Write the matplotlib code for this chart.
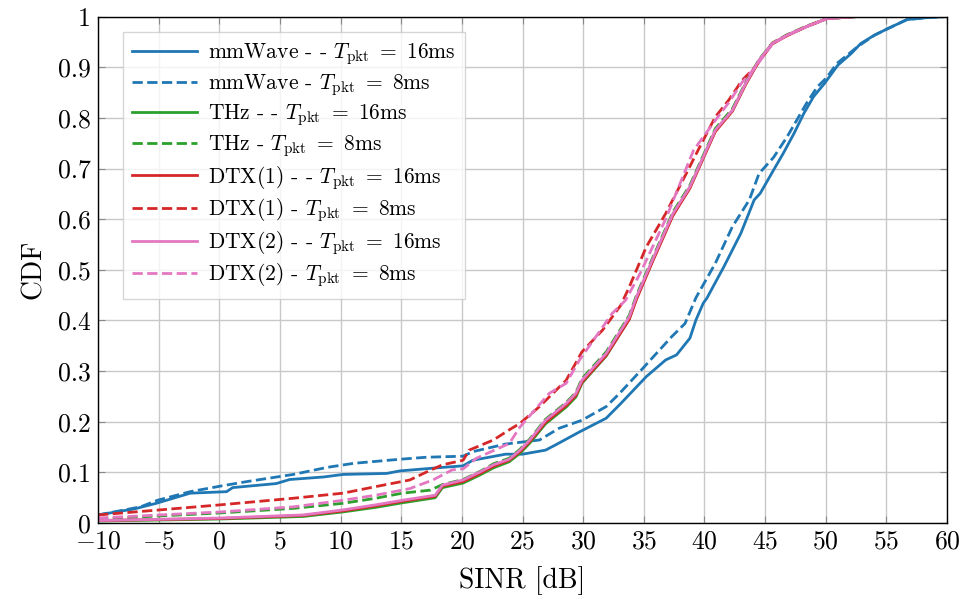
import numpy as np
import matplotlib.pyplot as plt

plt.rcParams['font.family'] = 'serif'
plt.rcParams['font.serif'] = ['cmr10']
plt.rcParams['mathtext.fontset'] = 'cm'
plt.rcParams['axes.formatter.use_mathtext'] = True

# SINR [dB] / CDF points
mmw16_x = [-10, -7, -5.2, -2.4, 0.6, 1.1, 4.7, 5.8, 8.6, 10.2, 13.8, 14.9, 17.4, 20.1, 20.9, 23.6, 25.0, 26.9,
           27.7, 29.7, 31.9, 33.1, 35.2, 36.8, 37.7, 38.8, 39.3, 39.9, 40.2, 41.6, 43.0, 44.1, 44.6, 45.7, 46.5,
           47.4, 48.2, 49.0, 49.9, 51.0, 52.1, 52.9, 54.0, 55.1, 56.7, 58.4, 60]
mmw16_y = [0.016, 0.028, 0.039, 0.059, 0.062, 0.070, 0.078, 0.086, 0.091, 0.096, 0.098, 0.103, 0.108, 0.113,
           0.124, 0.136, 0.136, 0.144, 0.154, 0.180, 0.207, 0.236, 0.289, 0.322, 0.332, 0.365, 0.401, 0.434,
           0.444, 0.506, 0.572, 0.638, 0.651, 0.697, 0.730, 0.770, 0.809, 0.842, 0.868, 0.904, 0.927, 0.947,
           0.963, 0.976, 0.994, 0.998, 1.0]

mmw8_x = [-10, -6.5, -5.1, -2.4, 0.1, 2.3, 6.1, 8.9, 11.1, 14.9, 17.1, 20.1, 20.9, 23.6, 26.4, 28.0, 29.9, 31.9,
          33.0, 34.9, 37.3, 38.4, 39.3, 40.9, 42.3, 43.7, 44.5, 45.7, 46.8, 47.6, 48.4, 49.3, 50.1, 50.9, 52.6,
          54.0, 55.1, 56.7, 58.4, 60]
mmw8_y = [0.016, 0.032, 0.045, 0.062, 0.073, 0.082, 0.096, 0.110, 0.118, 0.126, 0.130, 0.132, 0.141, 0.156,
          0.164, 0.187, 0.203, 0.230, 0.256, 0.305, 0.368, 0.394, 0.445, 0.513, 0.585, 0.638, 0.690, 0.722,
          0.762, 0.795, 0.828, 0.861, 0.880, 0.907, 0.940, 0.963, 0.976, 0.994, 0.998, 1.0]

dtx2_16_x = [-10, 0.1, 6.9, 10.2, 12.9, 15.1, 17.8, 18.4, 20.1, 21.5, 22.6, 23.9, 24.8, 25.6, 26.9, 28.6, 29.4,
             29.9, 31.9, 33.8, 34.4, 35.7, 37.4, 38.8, 39.9, 40.9, 42.3, 43.4, 44.5, 45.6, 46.8, 48.4, 50.1, 52.6]
dtx2_16_y = [0.005, 0.010, 0.016, 0.026, 0.036, 0.045, 0.055, 0.075, 0.085, 0.101, 0.115, 0.126, 0.144, 0.164,
             0.203, 0.236, 0.256, 0.282, 0.335, 0.407, 0.447, 0.519, 0.611, 0.664, 0.723, 0.776, 0.815, 0.868,
             0.914, 0.947, 0.963, 0.980, 0.996, 1.0]

dtx1_16_x = [-10, 0.1, 6.9, 10.2, 12.9, 15.1, 17.8, 18.4, 20.1, 21.5, 22.6, 23.9, 24.8, 25.6, 26.9, 28.6, 29.4,
             29.9, 31.9, 33.8, 34.4, 35.7, 37.4, 38.8, 39.9, 40.9, 42.3, 43.4, 44.5, 45.6, 46.8, 48.4, 50.1, 52.6]
dtx1_16_y = [0.005, 0.009, 0.015, 0.024, 0.034, 0.043, 0.053, 0.073, 0.082, 0.098, 0.112, 0.124, 0.141, 0.161,
             0.199, 0.232, 0.252, 0.278, 0.331, 0.402, 0.442, 0.515, 0.607, 0.661, 0.720, 0.773, 0.813, 0.866,
             0.912, 0.946, 0.962, 0.980, 0.996, 1.0]

thz16_x = [-10, 0.1, 6.9, 10.2, 12.9, 15.1, 17.8, 18.4, 20.1, 21.5, 22.6, 23.9, 24.8, 25.6, 26.9, 28.6, 29.4,
           29.9, 31.9, 33.8, 34.4, 35.7, 37.4, 38.8, 39.9, 40.9, 42.3, 43.4, 44.5, 45.6, 46.8, 48.4, 50.1, 52.6]
thz16_y = [0.004, 0.008, 0.013, 0.022, 0.031, 0.040, 0.050, 0.070, 0.079, 0.095, 0.109, 0.121, 0.138, 0.158,
           0.196, 0.229, 0.249, 0.276, 0.330, 0.403, 0.444, 0.517, 0.609, 0.663, 0.722, 0.775, 0.814, 0.867,
           0.913, 0.947, 0.963, 0.980, 0.996, 1.0]

dtx1_8_x = [-10, -4.9, 0.1, 6.1, 10.2, 12.9, 15.7, 17.1, 18.4, 20.1, 20.6, 22.6, 23.9, 24.8, 26.4, 28.6, 29.9,
            31.6, 33.1, 33.8, 35.2, 36.8, 38.5, 39.6, 40.9, 42.0, 43.1, 44.2, 45.6, 46.8, 48.4, 50.1, 52.0]
dtx1_8_y = [0.016, 0.026, 0.036, 0.049, 0.059, 0.072, 0.085, 0.101, 0.115, 0.124, 0.144, 0.164, 0.184, 0.197,
            0.230, 0.282, 0.338, 0.381, 0.430, 0.466, 0.545, 0.611, 0.690, 0.742, 0.802, 0.835, 0.874, 0.901,
            0.947, 0.963, 0.980, 0.996, 1.0]

dtx2_8_x = [-10, 0.1, 6.1, 10.2, 12.9, 15.7, 17.6, 19.2, 20.1, 21.2, 23.9, 24.8, 27.2, 28.6, 29.7, 32.4, 33.5,
            34.7, 36.8, 39.1, 40.9, 42.0, 43.1, 44.2, 45.6, 46.8, 48.4, 50.1, 52.3]
dtx2_8_y = [0.010, 0.022, 0.032, 0.045, 0.055, 0.068, 0.085, 0.105, 0.107, 0.128, 0.157, 0.190, 0.256, 0.276,
            0.322, 0.414, 0.440, 0.493, 0.600, 0.736, 0.795, 0.830, 0.870, 0.900, 0.946, 0.963, 0.980, 0.996, 1.0]

thz8_x = [-10, 0.1, 6.1, 10.2, 12.9, 15.1, 17.4, 18.4, 20.1, 21.5, 22.6, 23.9, 24.8, 25.6, 26.9, 28.6, 29.4,
          29.9, 31.9, 33.8, 34.4, 35.7, 37.4, 38.8, 39.9, 40.9, 42.3, 43.4, 44.5, 45.6, 46.8, 48.4, 50.1, 52.6]
thz8_y = [0.008, 0.020, 0.029, 0.039, 0.049, 0.059, 0.065, 0.076, 0.086, 0.102, 0.117, 0.128, 0.146, 0.166,
          0.205, 0.238, 0.258, 0.285, 0.338, 0.410, 0.450, 0.522, 0.614, 0.667, 0.726, 0.779, 0.818, 0.870,
          0.915, 0.948, 0.964, 0.981, 0.996, 1.0]

series = [
    (mmw16_x, mmw16_y, '#1f77b4', '-', r'mmWave - - $T_{\mathrm{pkt}}\ =\ 16$ms'),
    (mmw8_x, mmw8_y, '#1f77b4', '--', r'mmWave - $T_{\mathrm{pkt}}\ =\ 8$ms'),
    (thz16_x, thz16_y, '#2ca02c', '-', r'THz - - $T_{\mathrm{pkt}}\ =\ 16$ms'),
    (thz8_x, thz8_y, '#2ca02c', '--', r'THz - $T_{\mathrm{pkt}}\ =\ 8$ms'),
    (dtx1_16_x, dtx1_16_y, '#d62728', '-', r'DTX(1) - - $T_{\mathrm{pkt}}\ =\ 16$ms'),
    (dtx1_8_x, dtx1_8_y, '#d62728', '--', r'DTX(1) - $T_{\mathrm{pkt}}\ =\ 8$ms'),
    (dtx2_16_x, dtx2_16_y, '#e377c2', '-', r'DTX(2) - - $T_{\mathrm{pkt}}\ =\ 16$ms'),
    (dtx2_8_x, dtx2_8_y, '#e377c2', '--', r'DTX(2) - $T_{\mathrm{pkt}}\ =\ 8$ms'),
]

fig = plt.figure(figsize=(9.63, 6.04), dpi=100)
ax = fig.add_axes([0.1018, 0.134, 0.8816, 0.8386])

for x, y, c, ls, lab in series:
    ax.plot(x, y, color=c, linestyle=ls, linewidth=2.0, label=lab)

ax.set_xlim(-10, 60)
ax.set_ylim(0, 1)
ax.set_xticks(np.arange(-10, 61, 5))
ax.set_yticks(np.arange(0, 1.01, 0.1))
ax.set_yticklabels(['0'] + ['%.1f' % v for v in np.arange(0.1, 0.95, 0.1)] + ['1'])
ax.grid(True, color='#c8c8c8', linewidth=1.0)
ax.tick_params(direction='in', top=True, right=True, labelsize=18.5, length=5, color='#888888', pad=5)
for s in ax.spines.values():
    s.set_linewidth(1.0)
ax.set_xlabel('SINR [dB]', fontsize=20, labelpad=9)
ax.set_ylabel('CDF', fontsize=20, labelpad=8)

leg = ax.legend(loc='upper left', bbox_to_anchor=(0.029, 0.970), fontsize=15.5, fancybox=False,
                framealpha=0.8, edgecolor='#cccccc', handlelength=3.0, labelspacing=0.22,
                borderpad=0.45, handletextpad=0.5, borderaxespad=0)

fig.savefig('out.png', dpi=100)
